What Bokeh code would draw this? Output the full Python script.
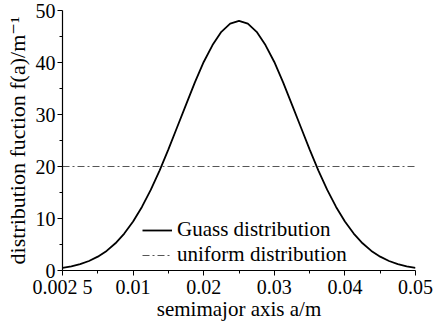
from bokeh.plotting import figure
from bokeh.models import FixedTicker, Range1d, Legend, LegendItem
from bokeh.embed import file_html
from bokeh.resources import INLINE

# semimajor axis samples (m) and distribution values (1/m)
a_vals = [0.0, 0.00125, 0.0025, 0.00375, 0.005, 0.00625, 0.0075, 0.00875,
          0.01, 0.01125, 0.0125, 0.01375, 0.015, 0.01625, 0.0175, 0.01875,
          0.02, 0.02125, 0.0225, 0.02375, 0.025, 0.02625, 0.0275, 0.02875,
          0.03, 0.03125, 0.0325, 0.03375, 0.035, 0.03625, 0.0375, 0.03875,
          0.04, 0.04125, 0.0425, 0.04375, 0.045, 0.04625, 0.0475, 0.04875, 0.05]
gauss_vals = [0.52, 0.81, 1.23, 1.83, 2.66, 3.77, 5.23, 7.10,
              9.42, 12.22, 15.5, 19.21, 23.3, 27.59, 31.9, 36.18,
              40.1, 43.35, 45.9, 47.46, 48.0, 47.46, 45.9, 43.35,
              40.1, 36.18, 31.9, 27.59, 23.3, 19.21, 15.5, 12.22,
              9.42, 7.10, 5.23, 3.77, 2.66, 1.83, 1.23, 0.81, 0.52]
uniform_a = [0.0, 0.05]
uniform_vals = [20, 20]

x_ticks = [0.0, 0.01, 0.02, 0.03, 0.04, 0.05]
x_tick_labels = ["0.002 5", "0.01", "0.02", "0.03", "0.04", "0.05"]
y_ticks = [0, 10, 20, 30, 40, 50]

FONT = "'Liberation Serif', 'DejaVu Serif', serif"

p = figure(width=433, height=324, output_backend="svg", toolbar_location=None,
           x_range=Range1d(0.0, 0.05), y_range=Range1d(0, 50),
           min_border_left=62, min_border_right=18, min_border_top=10,
           min_border_bottom=54)
p.outline_line_color = None
p.grid.visible = False
p.background_fill_color = "white"
p.border_fill_color = "white"

g = p.line(a_vals, gauss_vals, line_color="black", line_width=1.8)
u = p.line(uniform_a, uniform_vals, line_color="#555555", line_width=1,
           line_dash="7 3 2 3")

p.xaxis.ticker = FixedTicker(ticks=x_ticks,
                             minor_ticks=[0.005, 0.015, 0.025, 0.035, 0.045])
p.xaxis.major_label_overrides = {t: s for t, s in zip(x_ticks, x_tick_labels)}
p.yaxis.ticker = FixedTicker(ticks=y_ticks, minor_ticks=[5, 15, 25, 35, 45])

for ax in (p.xaxis[0], p.yaxis[0]):
    ax.axis_line_color = "black"
    ax.axis_line_width = 1.2
    ax.major_tick_line_color = "black"
    ax.minor_tick_line_color = "black"
    ax.major_tick_in = 0
    ax.major_tick_out = 5
    ax.minor_tick_in = 0
    ax.minor_tick_out = 3
    ax.major_label_text_font = FONT
    ax.major_label_text_font_size = "20px"
    ax.major_label_text_color = "black"
    ax.axis_label_text_font = FONT
    ax.axis_label_text_font_style = "normal"
    ax.axis_label_text_color = "black"

p.xaxis.axis_label = "semimajor axis a/m"
p.yaxis.axis_label = "distribution fuction f(a)/m\u207b\u00b9"
p.xaxis.axis_label_text_font_size = "21px"
p.yaxis.axis_label_text_font_size = "22px"
p.xaxis.major_label_standoff = 0
p.yaxis.major_label_standoff = 2
p.xaxis.axis_label_standoff = -4
p.yaxis.axis_label_standoff = 3

legend = Legend(items=[LegendItem(label="Guass distribution", renderers=[g]),
                       LegendItem(label="uniform distribution", renderers=[u])],
                location=(80, 3), border_line_color=None,
                background_fill_alpha=0, padding=0, margin=0, spacing=0,
                glyph_width=30, glyph_height=22, label_height=22,
                label_standoff=5, label_text_font=FONT,
                label_text_font_size="21px", label_text_color="black")
p.add_layout(legend)

open("out.html", "w").write(file_html(p, INLINE))
